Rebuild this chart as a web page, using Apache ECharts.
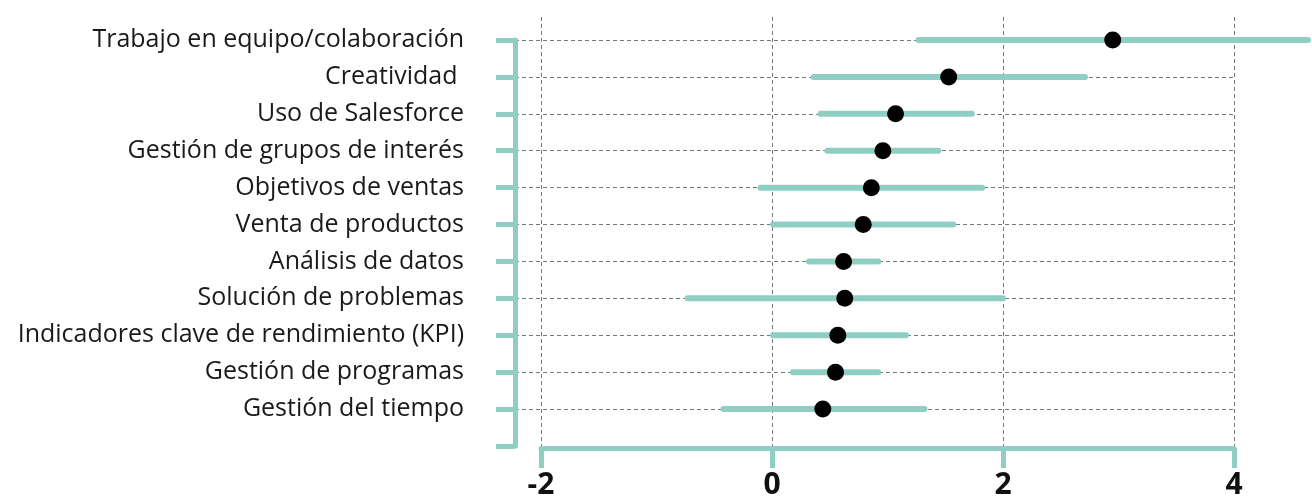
<!DOCTYPE html>
<html>
<head>
<meta charset="utf-8">
<script src="https://cdn.jsdelivr.net/npm/echarts@6/dist/echarts.min.js"></script>
<style>
  html, body { margin: 0; padding: 0; background: #ffffff; }
  #chart { width: 1312px; height: 503px; }
</style>
</head>
<body>
<div id="chart"></div>
<script>
// ---- data ----
const categories = [
  'Trabajo en equipo/colaboración',
  'Creatividad ',
  'Uso de Salesforce',
  'Gestión de grupos de interés',
  'Objetivos de ventas',
  'Venta de productos',
  'Análisis de datos',
  'Solución de problemas',
  'Indicadores clave de rendimiento (KPI)',
  'Gestión de programas',
  'Gestión del tiempo'
];
const estimates = [2.95, 1.53, 1.07, 0.96, 0.86, 0.79, 0.62, 0.63, 0.57, 0.55, 0.44];
const lowerBounds = [1.27, 0.36, 0.42, 0.48, -0.10, 0.01, 0.32, -0.73, 0.01, 0.18, -0.42];
const upperBounds = [4.64, 2.71, 1.73, 1.44, 1.82, 1.57, 0.92, 2.00, 1.16, 0.92, 1.32];
const xTicks = [-2, 0, 2, 4];

// ---- layout ----
const TEAL = '#8fcfc3';
const axisLeftPx = 515, plotLeftPx = 541, plotRightPx = 1234;
const unitPx = (plotRightPx - plotLeftPx) / (xTicks[xTicks.length - 1] - xTicks[0]);
const hiddenXMin = xTicks[0] - (plotLeftPx - axisLeftPx) / unitPx;

const yCats = categories.concat(['']);

const chart = echarts.init(document.getElementById('chart'), null, { renderer: 'canvas' });
chart.setOption({
  backgroundColor: '#ffffff',
  animation: false,
  grid: [
    { left: plotLeftPx, right: 1312 - plotRightPx, top: 17, bottom: 503 - 448, containLabel: false },
    { left: axisLeftPx, right: 1312 - plotRightPx, top: 40, bottom: 503 - 446, containLabel: false }
  ],
  xAxis: [
    {
      gridIndex: 0, type: 'value', min: xTicks[0], max: xTicks[xTicks.length - 1], interval: 2,
      axisLine: { show: true, onZero: false, lineStyle: { color: TEAL, width: 5 } },
      axisTick: { show: true, length: 20, lineStyle: { color: TEAL, width: 5 } },
      axisLabel: { color: '#111', fontSize: 30, fontWeight: 'bold', fontFamily: 'Open Sans', margin: 22 },
      splitLine: { show: true, lineStyle: { color: '#777', type: [4, 3], width: 1 } }
    },
    {
      gridIndex: 1, type: 'value', min: hiddenXMin, max: xTicks[xTicks.length - 1], show: false,
      axisLine: { onZero: false },
      splitLine: { show: false }
    }
  ],
  yAxis: [
    { gridIndex: 0, type: 'value', show: false, axisLine: { onZero: false }, splitLine: { show: false } },
    {
      gridIndex: 1, type: 'category', data: yCats, inverse: true, boundaryGap: false,
      axisLine: { show: true, onZero: false, lineStyle: { color: TEAL, width: 5 } },
      axisTick: { show: true, length: 19, alignWithLabel: true, lineStyle: { color: TEAL, width: 5 } },
      axisLabel: { color: '#1a1a1a', fontSize: 25, fontFamily: 'Open Sans', margin: 51, interval: 0 },
      splitLine: {
        show: true, interval: function (i) { return i < categories.length; },
        lineStyle: { color: '#777', type: [4, 3], width: 1 }
      }
    }
  ],
  series: [
    {
      type: 'custom', xAxisIndex: 1, yAxisIndex: 1, clip: false, z: 3,
      data: categories.map(function (c, i) { return [lowerBounds[i], upperBounds[i], i]; }),
      renderItem: function (params, api) {
        const p1 = api.coord([api.value(0), api.value(2)]);
        const p2 = api.coord([api.value(1), api.value(2)]);
        return {
          type: 'line',
          shape: { x1: p1[0], y1: p1[1], x2: p2[0], y2: p2[1] },
          style: { stroke: TEAL, lineWidth: 6, lineCap: 'round' }
        };
      }
    },
    {
      type: 'scatter', xAxisIndex: 1, yAxisIndex: 1, z: 4,
      symbol: 'circle', symbolSize: 17,
      itemStyle: { color: '#000', opacity: 1 },
      data: categories.map(function (c, i) { return [estimates[i], i]; })
    }
  ]
});
</script>
</body>
</html>
